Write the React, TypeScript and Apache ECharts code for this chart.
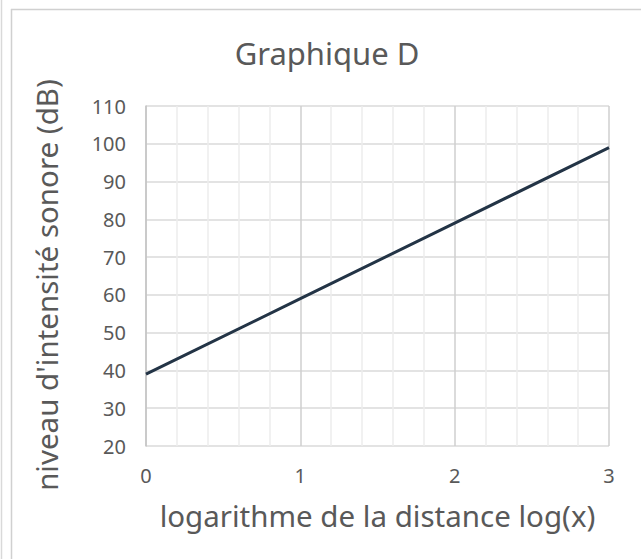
import React, { useEffect, useRef } from "react";
import * as echarts from "echarts";

const xValues = [0, 1, 2, 3];
const yValues = [39, 59, 79, 99];
const titleText = "Graphique D";
const xAxisName = "logarithme de la distance log(x)";
const yAxisName = "niveau d'intensité sonore (dB)";

export default function App() {
  const ref = useRef<HTMLDivElement>(null);
  useEffect(() => {
    if (!ref.current) return;
    const chart = echarts.init(ref.current, null, { renderer: "svg" });
    const font = "'Noto Sans', 'Open Sans', sans-serif";
    chart.setOption({
      animation: false,
      backgroundColor: "#ffffff",
      title: {
        text: titleText,
        left: 327,
        top: 37,
        padding: 0,
        textAlign: "center",
        textStyle: { fontFamily: font, fontSize: 31, fontWeight: "normal", color: "#595959" },
      },
      grid: { left: 146, right: 32, top: 106, bottom: 113 },
      xAxis: {
        type: "value",
        min: 0,
        max: 3,
        interval: 1,
        name: xAxisName,
        nameLocation: "middle",
        nameGap: 54,
        nameTextStyle: { fontFamily: font, fontSize: 29.5, color: "#595959" },
        axisLine: { show: false },
        axisTick: { show: false },
        axisLabel: { fontFamily: font, fontSize: 20, color: "#595959", margin: 19 },
        splitLine: { show: true, lineStyle: { color: "#cfcfcf", width: 1.5 } },
        minorTick: { show: false, splitNumber: 5 },
        minorSplitLine: { show: true, lineStyle: { color: "#ececec", width: 1.5 } },
      },
      yAxis: {
        type: "value",
        min: 20,
        max: 110,
        interval: 10,
        name: yAxisName,
        nameLocation: "middle",
        nameGap: 85,
        nameTextStyle: { fontFamily: font, fontSize: 29.5, color: "#595959", padding: [0, 18, 0, 0] },
        axisLine: { show: true, lineStyle: { color: "#c4c4c4", width: 1.5 } },
        axisTick: { show: false },
        axisLabel: { fontFamily: font, fontSize: 20, color: "#595959", margin: 20 },
        splitLine: { show: true, lineStyle: { color: "#dadada", width: 1.5 } },
      },
      series: [
        {
          type: "line",
          data: xValues.map((x, i) => [x, yValues[i]]),
          showSymbol: false,
          symbol: "none",
          lineStyle: { color: "#233446", width: 3 },
          z: 5,
        },
      ],
      graphic: [
        { type: "line", shape: { x1: 1.5, y1: 0, x2: 1.5, y2: 559 }, style: { stroke: "#d9d9d9", lineWidth: 1.5 } },
        { type: "line", shape: { x1: 11.5, y1: 9, x2: 11.5, y2: 559 }, style: { stroke: "#d0d0d0", lineWidth: 1.5 } },
        { type: "line", shape: { x1: 11, y1: 9.5, x2: 641, y2: 9.5 }, style: { stroke: "#d0d0d0", lineWidth: 1.5 } },
      ],
    });
    return () => chart.dispose();
  }, []);
  return (
    <div
      ref={ref}
      style={{ position: "fixed", left: 0, top: 0, width: 641, height: 559 }}
    />
  );
}
